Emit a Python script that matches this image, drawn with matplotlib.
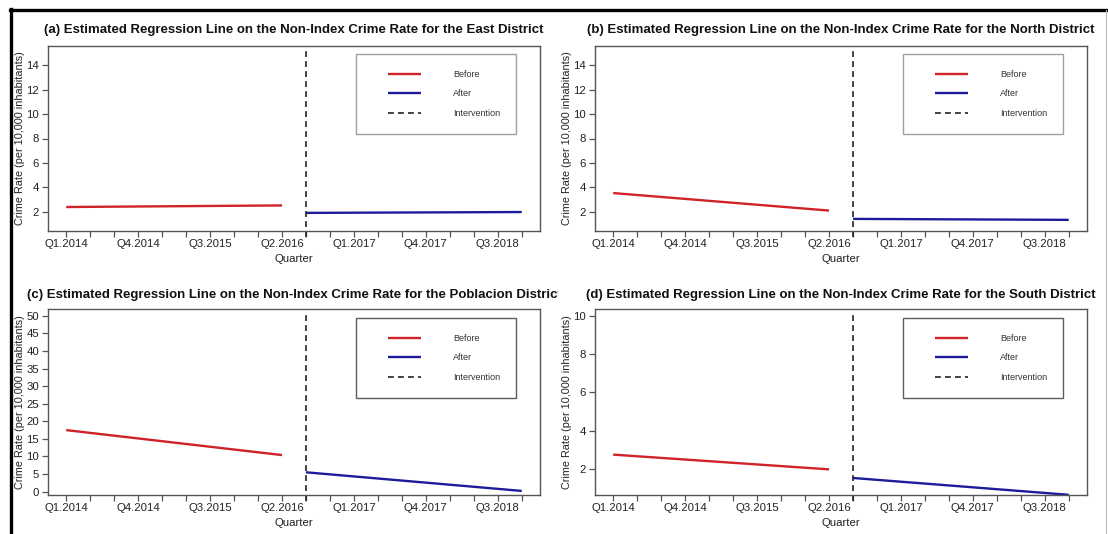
import matplotlib
matplotlib.use('Agg')
import matplotlib.pyplot as plt
from matplotlib.lines import Line2D
from matplotlib.legend_handler import HandlerLine2D
from matplotlib.transforms import Bbox, TransformedBbox

plt.rcParams['font.family'] = ['Liberation Sans', 'DejaVu Sans']

# quarters are numbered 1..20 (Q1.2014 .. Q4.2018), intervention at Q3.2016
quarter_idx = list(range(1, 21))
tick_pos = [1, 4, 7, 10, 13, 16, 19]
tick_labels = ['Q1.2014', 'Q4.2014', 'Q3.2015', 'Q2.2016', 'Q1.2017', 'Q4.2017', 'Q3.2018']
before_x = [1, 10]
after_x = [11, 20]
intervention_x = 11

districts = ['East', 'North', 'Poblacion', 'South']
panel_tags = ['(a)', '(b)', '(c)', '(d)']

# fitted line end points
east_before = [2.40, 2.53]
east_after = [1.92, 1.99]
north_before = [3.54, 2.11]
north_after = [1.43, 1.35]
poblacion_before = [17.5, 10.4]
poblacion_after = [5.5, 0.2]
south_before = [2.75, 1.98]
south_after = [1.53, 0.65]

before_vals = [east_before, north_before, poblacion_before, south_before]
after_vals = [east_after, north_after, poblacion_after, south_after]

y_ranges = [(1, 15), (1, 15), (1, 50), (1, 10)]
y_ticks = [list(range(2, 15, 2)), list(range(2, 15, 2)), list(range(0, 51, 5)), list(range(2, 11, 2))]

RED = '#cf2229'
BLUE = '#1c1c9c'

W, H = 1108, 534
fig = plt.figure(figsize=(W / 100, H / 100), dpi=100)

# axes boxes in pixels: left, top, right, bottom
boxes = [(48, 46, 540, 231), (595, 46, 1087, 231),
         (48, 309, 540, 495), (595, 309, 1087, 495)]

for i, ax_box in enumerate(boxes):
    l, t, r, b = ax_box
    ax = fig.add_axes([l / W, 1 - b / H, (r - l) / W, (b - t) / H])

    ax.plot(before_x, before_vals[i], color=RED, lw=1.7, label='Before', solid_capstyle='butt')
    ax.plot(after_x, after_vals[i], color=BLUE, lw=1.7, label='After', solid_capstyle='butt')
    ax.axvline(intervention_x, ymin=-0.03, ymax=0.985, color='#222222', lw=1.2,
               dashes=(3.5, 2.5), clip_on=False, label='Intervention')

    x_pad = 0.04 * (quarter_idx[-1] - quarter_idx[0])
    ax.set_xlim(quarter_idx[0] - x_pad, quarter_idx[-1] + x_pad)
    y0, y1 = y_ranges[i]
    y_pad = 0.04 * (y1 - y0)
    ax.set_ylim(y0 - y_pad, y1 + y_pad)

    ax.set_xticks(quarter_idx)
    ax.set_xticklabels([tick_labels[tick_pos.index(q)] if q in tick_pos else '' for q in quarter_idx])
    ax.set_yticks(y_ticks[i])
    ax.tick_params(axis='both', direction='out', length=4.5, width=0.9, color='#555555',
                   labelsize=8.2, labelcolor='#222222')
    ax.tick_params(axis='x', pad=1.5)
    ax.tick_params(axis='y', pad=2)
    for sp in ax.spines.values():
        sp.set_color('#555555')
        sp.set_linewidth(1.0)

    ax.set_xlabel('Quarter', fontsize=8.2, color='#222222')
    ax.xaxis.set_label_coords(0.5, -0.125)
    ax.set_ylabel('Crime Rate (per 10,000 inhabitants)', fontsize=7.8, color='#222222')
    ax.yaxis.set_label_coords(-0.046, 0.5)

    title = ax.set_title('%s Estimated Regression Line on the Non-Index Crime Rate for the %s District'
                         % (panel_tags[i], districts[i]),
                         fontsize=9.5, fontweight='bold', color='#111111',
                         pad=9 if i < 2 else 8)
    if i == 2:
        # the left-hand bottom title is cut where the next panel starts
        clip = TransformedBbox(Bbox.from_extents(0, 0, 558 / W, 1), fig.transFigure)
        title.set_clip_box(clip)
        title.set_clip_on(True)

    leg_top = 0.957 if i < 2 else 0.952
    leg = ax.legend(loc='upper right', bbox_to_anchor=(0.951, leg_top), borderaxespad=0,
                    fontsize=6.5, frameon=True, fancybox=False, borderpad=1.75,
                    handlelength=5.45, handletextpad=3.5, labelspacing=1.17,
                    handler_map={Line2D: HandlerLine2D(xpad=1.8)})
    frame = leg.get_frame()
    frame.set_edgecolor('#8a8a8a' if i < 2 else '#333333')
    frame.set_linewidth(1.0)
    frame.set_facecolor('white')
    for txt in leg.get_texts():
        txt.set_color('#333333')

# outer frame of the picture
fig.add_artist(Line2D([10 / W, 1], [1 - 10 / H, 1 - 10 / H], transform=fig.transFigure,
                      color='black', lw=2.4))
fig.add_artist(Line2D([11 / W, 11 / W], [0, 1 - 9 / H], transform=fig.transFigure,
                      color='black', lw=2.4))
fig.add_artist(Line2D([1106 / W, 1106 / W], [0, 1 - 10 / H], transform=fig.transFigure,
                      color='#bbbbbb', lw=0.8))

fig.savefig('out.png', dpi=100)
